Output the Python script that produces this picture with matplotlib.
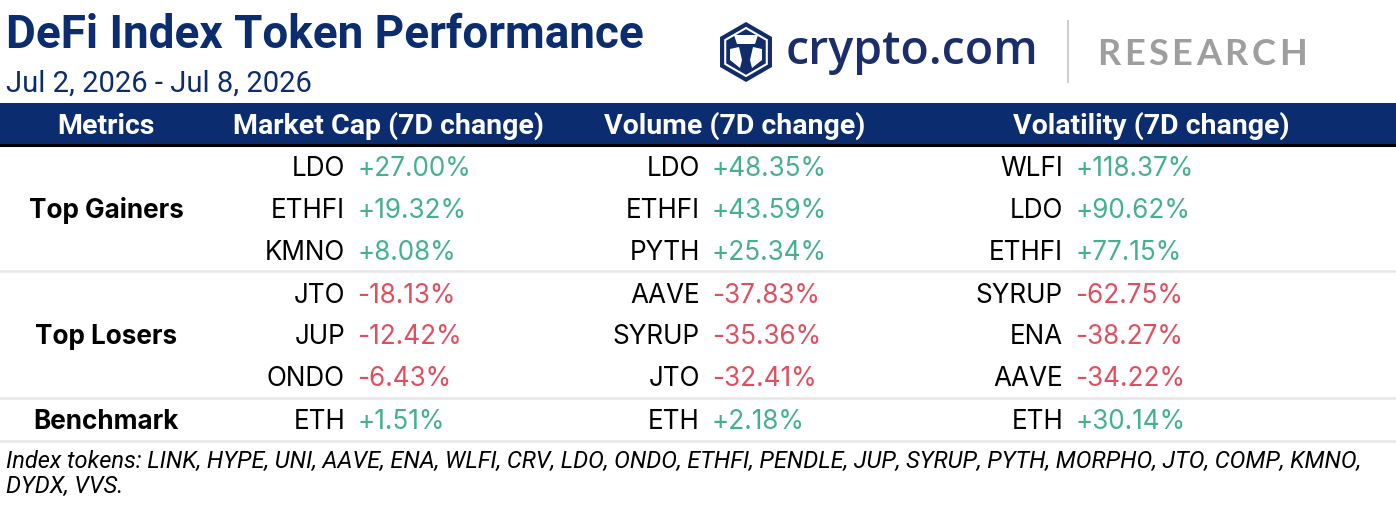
import matplotlib
matplotlib.use("Agg")
import matplotlib.pyplot as plt
from matplotlib.patches import Rectangle, Polygon
import numpy as np

# ---------------- data ----------------
title = "DeFi Index Token Performance"
subtitle = "Jul 2, 2026 - Jul 8, 2026"
headers = ["Metrics", "Market Cap (7D change)", "Volume (7D change)", "Volatility (7D change)"]
groups = ["Top Gainers", "Top Losers", "Benchmark"]

mcap_tokens = ["LDO", "ETHFI", "KMNO", "JTO", "JUP", "ONDO", "ETH"]
mcap_values = [27.00, 19.32, 8.08, -18.13, -12.42, -6.43, 1.51]
vol_tokens = ["LDO", "ETHFI", "PYTH", "AAVE", "SYRUP", "JTO", "ETH"]
vol_values = [48.35, 43.59, 25.34, -37.83, -35.36, -32.41, 2.18]
vola_tokens = ["WLFI", "LDO", "ETHFI", "SYRUP", "ENA", "AAVE", "ETH"]
vola_values = [118.37, 90.62, 77.15, -62.75, -38.27, -34.22, 30.14]

footnote = ("Index tokens: LINK, HYPE, UNI, AAVE, ENA, WLFI, CRV, LDO, ONDO, ETHFI, PENDLE, JUP, SYRUP, PYTH, MORPHO, JTO, COMP, KMNO,\n"
            "DYDX, VVS.")

# ---------------- style ----------------
NAVY = "#0B2D6F"
GREEN = "#44B08E"
RED = "#E04F5E"
SEP = "#E6E6E6"

W, H = 1396, 506
fig = plt.figure(figsize=(W / 100, H / 100), dpi=100)
ax = fig.add_axes([0, 0, 1, 1])
ax.set_xlim(0, W)
ax.set_ylim(H, 0)
ax.axis("off")

# title
ax.text(6, 35, title, fontsize=33, fontweight="bold", family="Roboto", color=NAVY, va="center", ha="left")
ax.text(6, 84, subtitle, fontsize=21, family="Roboto", color=NAVY, va="center", ha="left")

# logo
cx, cy, r = 746, 53, 30
ang = np.deg2rad(np.arange(90, 450, 60))
ax.add_patch(Polygon(np.c_[cx + r * np.cos(ang), cy - r * np.sin(ang)], closed=True, fc="#102C6B", ec="none"))
r2 = 24
ax.add_patch(Polygon(np.c_[cx + r2 * np.cos(ang), cy - r2 * np.sin(ang)], closed=True, fc="none", ec="white", lw=1.5))
ax.add_patch(Polygon([[cx - 12, cy - 17], [cx + 12, cy - 17], [cx + 9, cy - 8], [cx - 9, cy - 8]], closed=True, fc="white", ec="none"))
ax.add_patch(Polygon([[cx - 16, cy - 3], [cx - 7, cy - 5], [cx - 4, cy + 8], [cx - 6, cy + 16], [cx - 16, cy + 8]], closed=True, fc="white", ec="none"))
ax.add_patch(Polygon([[cx + 16, cy - 3], [cx + 7, cy - 5], [cx + 4, cy + 8], [cx + 6, cy + 16], [cx + 16, cy + 8]], closed=True, fc="white", ec="none"))
ax.text(786, 51, "crypto.com", fontsize=33.5, family="Open Sans", fontweight="semibold", color="#1B2E6B", va="center", ha="left")
ax.plot([1068, 1068], [22, 83], color="#D0D0D0", lw=1.5)

# RESEARCH with letter spacing
fig.canvas.draw()
renderer = fig.canvas.get_renderer()
x = 1097
for ch in "RESEARCH":
    t = ax.text(x, 54, ch, fontsize=26, family="Lato", fontweight="bold", color="#9E9E9E", va="center", ha="left")
    bb = t.get_window_extent(renderer=renderer)
    x += bb.width + 3.6

# header band
ax.add_patch(Rectangle((0, 104), W, 41, fc=NAVY, ec="none"))
ax.plot([0, W], [145.5, 145.5], color="black", lw=2.2)
hx = [106, 388, 735, 1151]
for xh, h in zip(hx, headers):
    ax.text(xh, 126, h, fontsize=20.5, family="Roboto", fontweight="bold", color="white", va="center", ha="center")

# rows
row_y = [169, 211, 253, 296, 337, 379, 422]
group_y = [211, 337, 422]
for gy, g in zip(group_y, groups):
    ax.text(106, gy, g, fontsize=18.8, family="Inter", fontweight="bold", color="black", va="center", ha="center")

for y in [272, 399, 442]:
    ax.plot([0, W], [y, y], color=SEP, lw=1.8)

cols = [(345, mcap_tokens, mcap_values), (700, vol_tokens, vol_values), (1063, vola_tokens, vola_values)]
for xr, toks, vals in cols:
    for y, t, v in zip(row_y, toks, vals):
        ax.text(xr, y, t, fontsize=18.8, family="Inter", color="black", va="center", ha="right")
        ax.text(xr + 12, y, f"{v:+.2f}%", fontsize=18.8, family="Inter",
                color=GREEN if v >= 0 else RED, va="center", ha="left")

# footnote
ax.text(6, 474, footnote, fontsize=17, family="Roboto", style="italic", color="black",
        va="center", ha="left", linespacing=1.1)

fig.savefig("out.png", dpi=100)
